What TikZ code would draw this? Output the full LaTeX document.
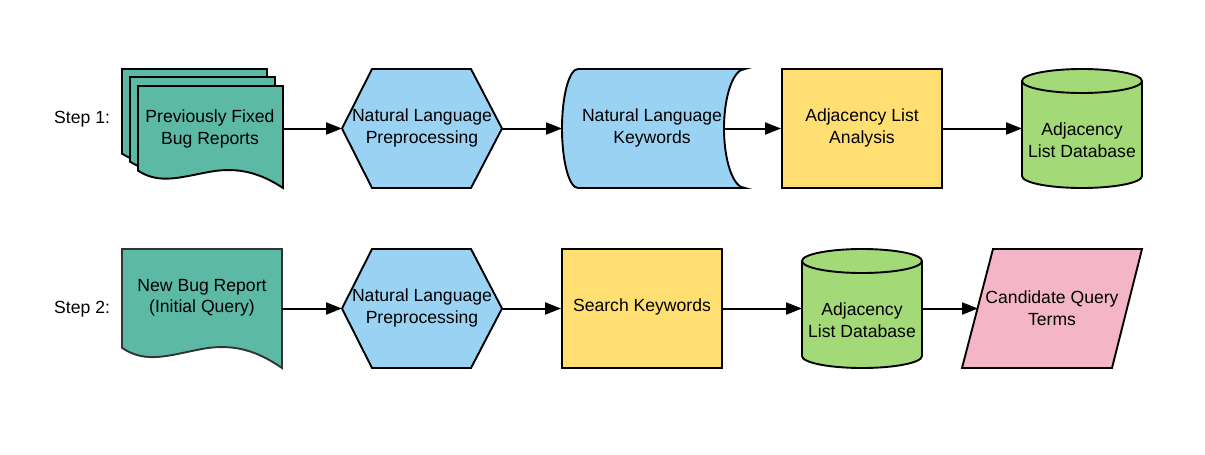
\documentclass[tikz,border=0pt]{standalone}
\usepackage{fontspec}
\setmainfont{Liberation Sans}
\usetikzlibrary{arrows.meta}
\definecolor{tealc}{HTML}{5CB9A6}
\definecolor{bluec}{HTML}{9AD2F3}
\definecolor{yelc}{HTML}{FFDF71}
\definecolor{grnc}{HTML}{A3D977}
\definecolor{pinkc}{HTML}{F4B5C7}
\begin{document}
\begin{tikzpicture}[x=1pt,y=-1pt,
  shp/.style={line width=1.9pt, line join=miter},
  frame/.style={inner sep=0pt, outer sep=0pt, draw=none},
  txt/.style={align=center, font=\fontsize{17.6}{21.5}\selectfont, inner sep=0pt},
  arr/.style={line width=2pt, -{Triangle[length=16pt,width=12pt]}},
  docpath/.style={insert path={(0,0) -- (1,0) -- (1,1) .. controls (0.85,0.86) and (0.7,0.79) .. (0.5,0.84) .. controls (0.3,0.89) and (0.15,0.97) .. (0,0.83) -- cycle}}]
\useasboundingbox[fill=white] (0,0) rectangle (1205,455);

% ---------- Step 1 ----------
\node[txt, anchor=west] (s1) at (54,119) {Step 1:};

% multi document
\begin{scope}[shift={(122,69)}, x=145pt, y=-102pt]
  \draw[shp, fill=tealc] [docpath];
\end{scope}
\begin{scope}[shift={(130,77)}, x=145pt, y=-102pt]
  \draw[shp, fill=tealc] [docpath];
\end{scope}
\begin{scope}[shift={(138,86)}, x=145pt, y=-102pt]
  \draw[shp, fill=tealc] [docpath];
\end{scope}
\node[frame, minimum width=161pt, minimum height=119pt] (d1) at (202.5,128.5) {};
\node[txt] (d1t) at (210,129) {Previously Fixed\\Bug Reports};

% hexagon 1
\draw[shp, fill=bluec] (342,128.5) -- (372,69) -- (471,69) -- (502,128.5) -- (471,188) -- (372,188) -- cycle;
\node[frame, minimum width=160pt, minimum height=119pt] (h1) at (422,128.5) {};
\node[txt] (h1t) at (422,128) {Natural Language\\Preprocessing};

% stored data
\draw[shp, fill=bluec] (578,69) -- (745,69) arc[start angle=90, end angle=270, x radius=21pt, y radius=59.5pt]
  -- (578,188) arc[start angle=270, end angle=90, x radius=16pt, y radius=59.5pt] -- cycle;
\node[frame, minimum width=162pt, minimum height=119pt] (k1) at (643,128.5) {};
\node[txt] (k1t) at (652,128) {Natural Language\\Keywords};

% process
\node[shp, draw, fill=yelc, minimum width=160pt, minimum height=119pt, inner sep=0pt] (a1) at (862,128.5) {};
\node[txt] (a1t) at (862,128) {Adjacency List\\Analysis};

% cylinder 1
\draw[shp, fill=grnc] (1022,81) -- (1022,176) arc[start angle=180, end angle=360, x radius=60pt, y radius=12pt]
  -- (1142,81) arc[start angle=0, end angle=180, x radius=60pt, y radius=12pt] -- cycle;
\draw[shp] (1022,81) arc[start angle=180, end angle=360, x radius=60pt, y radius=12pt];
\node[frame, minimum width=120pt, minimum height=119pt] (c1) at (1082,128.5) {};
\node[txt] (c1t) at (1082,140) {Adjacency\\List Database};

\draw[arr] (d1.east) -- (h1.west);
\draw[arr] (h1.east) -- (k1.west);
\draw[arr] (k1.east) -- (a1.west);
\draw[arr] (a1.east) -- (c1.west);

% ---------- Step 2 ----------
\node[txt, anchor=west] (s2) at (54,309) {Step 2:};

\begin{scope}[shift={(122,249)}, x=160pt, y=-119pt]
  \draw[shp, draw=black!80, fill=tealc] [docpath];
\end{scope}
\node[frame, minimum width=160pt, minimum height=119pt] (d2) at (202,308.5) {};
\node[txt] (d2t) at (202,298) {New Bug Report\\(Initial Query)};

\draw[shp, fill=bluec] (342,308.5) -- (372,249) -- (471,249) -- (502,308.5) -- (471,368) -- (372,368) -- cycle;
\node[frame, minimum width=160pt, minimum height=119pt] (h2) at (422,308.5) {};
\node[txt] (h2t) at (422,308) {Natural Language\\Preprocessing};

\node[shp, draw, fill=yelc, minimum width=160pt, minimum height=119pt, inner sep=0pt] (sk) at (642,308.5) {};
\node[txt] (skt) at (642,307) {Search Keywords};

\draw[shp, fill=grnc] (802,261) -- (802,356) arc[start angle=180, end angle=360, x radius=60pt, y radius=12pt]
  -- (922,261) arc[start angle=0, end angle=180, x radius=60pt, y radius=12pt] -- cycle;
\draw[shp] (802,261) arc[start angle=180, end angle=360, x radius=60pt, y radius=12pt];
\node[frame, minimum width=120pt, minimum height=119pt] (c2) at (862,308.5) {};
\node[txt] (c2t) at (862,320) {Adjacency\\List Database};

\draw[shp, fill=pinkc] (993,249) -- (1142,249) -- (1112,368) -- (962,368) -- cycle;
\node[frame, minimum width=148pt, minimum height=119pt] (q) at (1052,308.5) {};
\node[txt] (qt) at (1052,308) {Candidate Query\\Terms};

\draw[arr] (d2.east) -- (h2.west);
\draw[arr] (h2.east) -- (sk.west);
\draw[arr] (sk.east) -- (c2.west);
\draw[arr] (c2.east) -- (q.west);
\end{tikzpicture}
\end{document}
